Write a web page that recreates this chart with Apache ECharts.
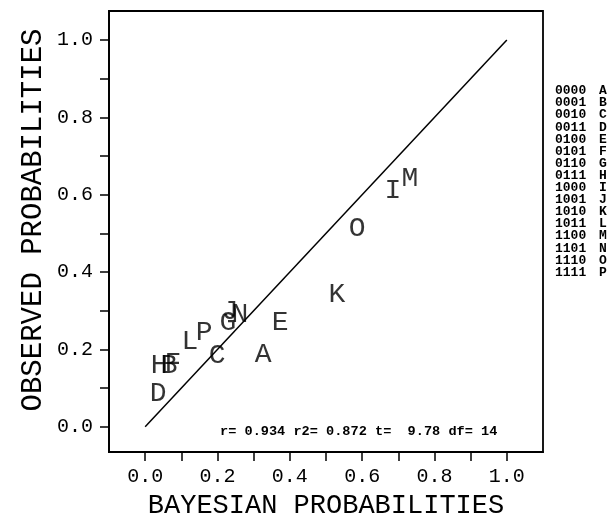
<!DOCTYPE html>
<html><head><meta charset="utf-8">
<script src="https://cdn.jsdelivr.net/npm/echarts@6/dist/echarts.min.js"></script>
<style>html,body{margin:0;padding:0;background:#fff}#c{width:612px;height:525px}</style>
</head><body><div id="c"></div>
<script>
const letters = ['A','B','C','D','E','F','G','H','I','J','K','L','M','N','O','P'];
const codes = ['0000','0001','0010','0011','0100','0101','0110','0111','1000','1001','1010','1011','1100','1101','1110','1111'];
const bayesian = [0.326,0.066,0.199,0.036,0.373,0.077,0.229,0.039,0.685,0.235,0.530,0.124,0.732,0.262,0.586,0.163];
const observed = [0.186,0.158,0.183,0.085,0.269,0.163,0.269,0.158,0.610,0.297,0.341,0.220,0.643,0.289,0.512,0.243];
const xTicks = [0,0.1,0.2,0.3,0.4,0.5,0.6,0.7,0.8,0.9,1.0];
const xLabels = [0,0.2,0.4,0.6,0.8,1.0];
const yTicks = [0,0.1,0.2,0.3,0.4,0.5,0.6,0.7,0.8,0.9,1.0];
const yLabels = [0,0.2,0.4,0.6,0.8,1.0];
const refLineX = [0,1];
const refLineY = [0,1];
const statsText = 'r= 0.934 r2= 0.872 t=  9.78 df= 14';
const xTitle = 'BAYESIAN PROBABILITIES';
const yTitle = 'OBSERVED PROBABILITIES';

const FONT = '"Liberation Mono", "DejaVu Sans Mono", monospace';
const chart = echarts.init(document.getElementById('c'), null, {renderer:'canvas'});
const pts = bayesian.map((b,i)=>[b, observed[i], letters[i]]);
const legendTexts = [];
codes.forEach((c,i)=>{
  legendTexts.push({type:'text', x:555, y:91 + i*12.1, style:{text:c, font:'bold 13px '+FONT, fill:'#000', textVerticalAlign:'middle'}});
  legendTexts.push({type:'text', x:599, y:91 + i*12.1, style:{text:letters[i], font:'bold 13px '+FONT, fill:'#000', textVerticalAlign:'middle'}});
});
const fmt = v => (Math.round(v*10)/10).toFixed(1);
chart.setOption({
  animation:false,
  backgroundColor:'#fff',
  grid:{left:109, right:69, top:11, bottom:73, show:true, borderColor:'#000', borderWidth:1.8, backgroundColor:'transparent'},
  xAxis:{type:'value', min:-0.1, max:1.1,
    name:xTitle, nameLocation:'middle', nameGap:38,
    nameTextStyle:{fontFamily:FONT, fontSize:27, color:'#000'},
    axisLine:{show:true, onZero:false, lineStyle:{color:'#000', width:1.8}},
    axisTick:{show:true, length:9, lineStyle:{color:'#000', width:1.5}, customValues:xTicks},
    axisLabel:{show:true, margin:15, fontFamily:FONT, fontSize:20, color:'#000', customValues:xLabels, formatter:fmt},
    splitLine:{show:false}},
  yAxis:{type:'value', min:-0.065, max:1.075,
    axisLine:{show:true, onZero:false, lineStyle:{color:'#000', width:1.8}},
    axisTick:{show:true, length:9, lineStyle:{color:'#000', width:1.5}, customValues:yTicks},
    axisLabel:{show:true, margin:16, fontFamily:FONT, fontSize:20, color:'#000', customValues:yLabels, formatter:fmt},
    splitLine:{show:false}},
  graphic:[
    {type:'text', x:33, y:220, rotation:Math.PI/2, style:{text:yTitle, font:'29px '+FONT, fill:'#000', textAlign:'center', textVerticalAlign:'middle'}},
    {type:'text', x:220, y:432, style:{text:statsText, font:'bold 13.6px '+FONT, fill:'#000', textVerticalAlign:'middle'}},
    ...legendTexts
  ],
  series:[
    {type:'line', data:refLineX.map((x,i)=>[x, refLineY[i]]), symbol:'none', lineStyle:{color:'#000', width:1.5}, silent:true},
    {type:'scatter', data:pts, symbolSize:1, itemStyle:{color:'rgba(0,0,0,0)'},
      label:{show:true, position:'inside', formatter:p=>p.data[2], fontFamily:FONT, fontSize:28, color:'#000', align:'center', verticalAlign:'middle'}}
  ]
});
</script></body></html>
